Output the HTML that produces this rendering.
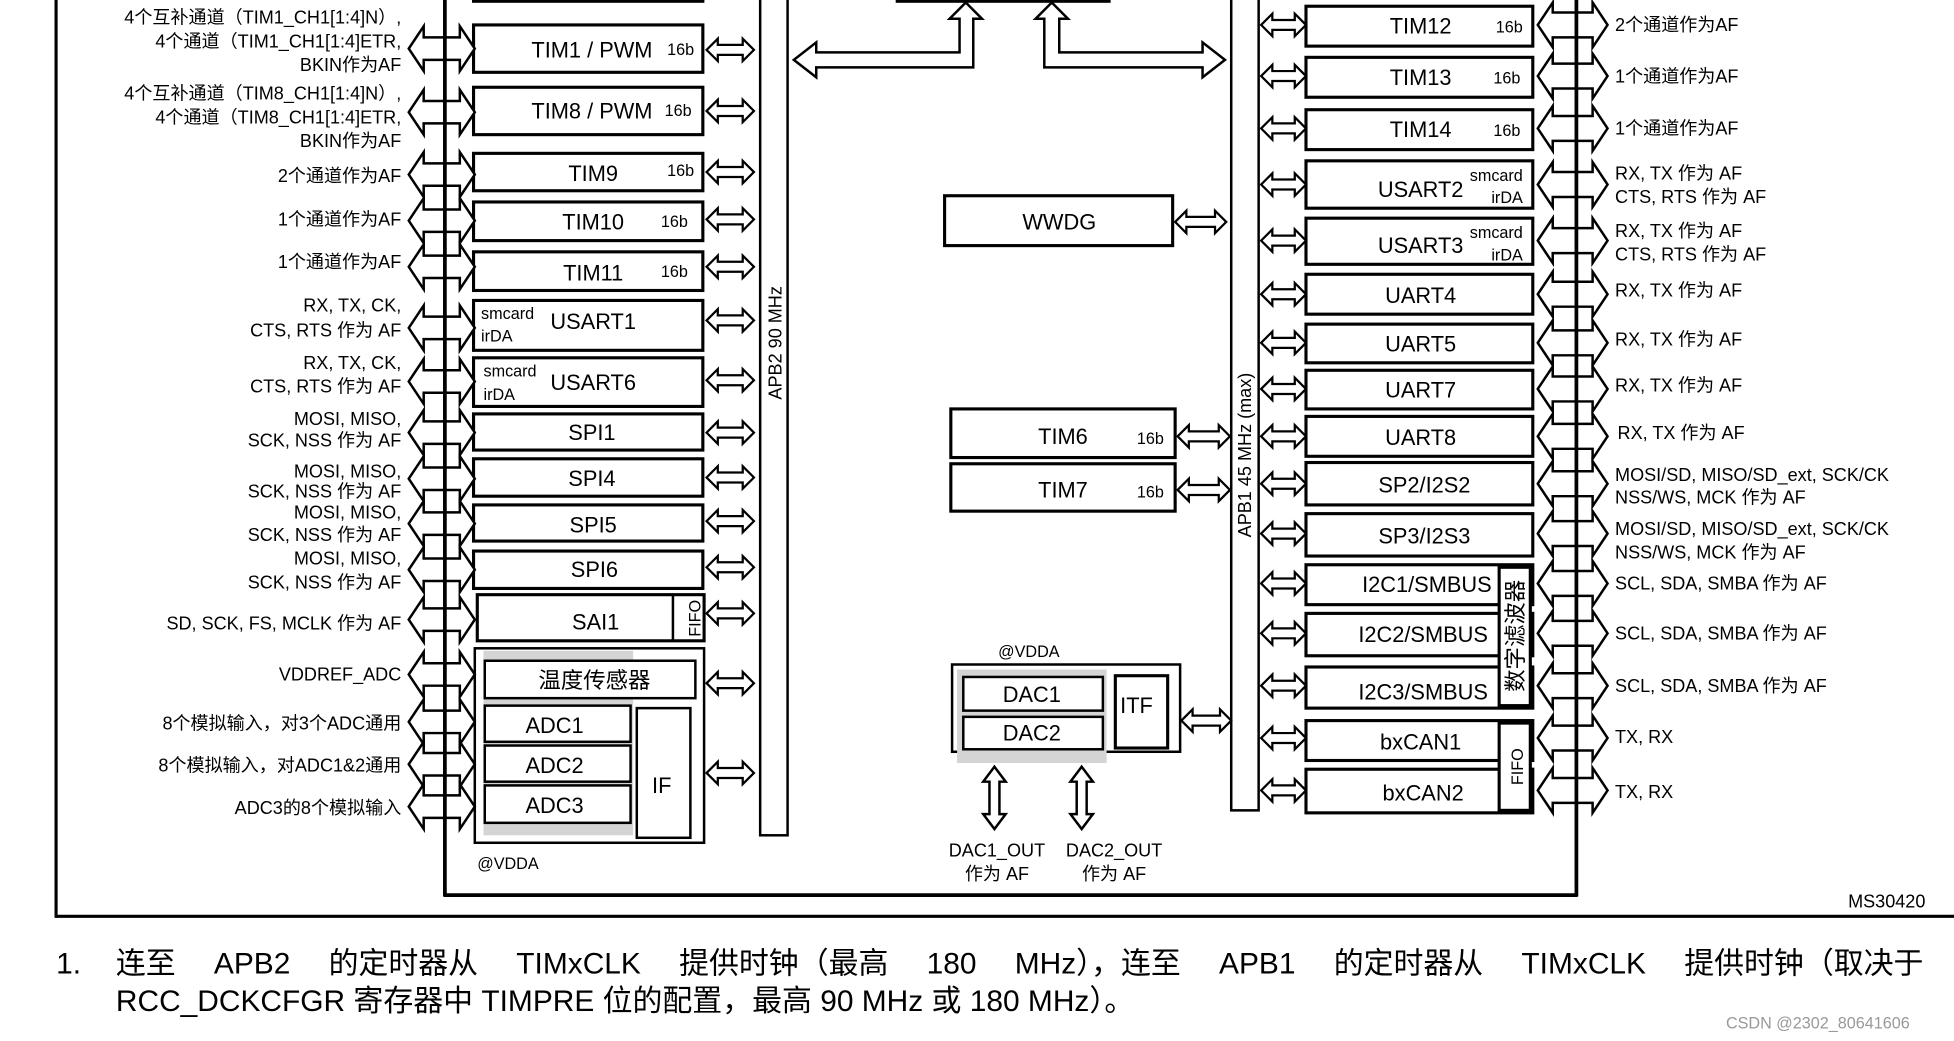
<!DOCTYPE html>
<html><head><meta charset="utf-8"><style>
html,body{margin:0;padding:0;background:#fff;}
svg{display:block;}
text{font-family:"Liberation Sans","Noto Sans CJK SC",sans-serif;fill:#000;}
.b{font-size:17.5px;}
.s{font-size:13px;}
.l{font-size:14.5px;}
.f{font-size:24px;}
</style></head><body>
<svg id="g" width="1954" height="1041" viewBox="0 0 1568 835" preserveAspectRatio="none" xmlns="http://www.w3.org/2000/svg">
<g id="shapes" fill="none" stroke="#000" stroke-width="2"></g>

<g class="b" text-anchor="middle">
<text x="475" y="46">TIM1 / PWM</text>
<text x="475" y="95">TIM8 / PWM</text>
<text x="476" y="145">TIM9</text>
<text x="476" y="184">TIM10</text>
<text x="476" y="225">TIM11</text>
<text x="476" y="264">USART1</text>
<text x="476" y="313">USART6</text>
<text x="475" y="353">SPI1</text>
<text x="475" y="390">SPI4</text>
<text x="476" y="427">SPI5</text>
<text x="477" y="463">SPI6</text>
<text x="478" y="505">SAI1</text>
<text x="477" y="552" font-size="18">温度传感器</text>
<text x="445" y="588">ADC1</text>
<text x="445" y="620">ADC2</text>
<text x="445" y="652">ADC3</text>
<text x="531" y="636">IF</text>
<text x="850" y="184">WWDG</text>
<text x="853" y="356">TIM6</text>
<text x="853" y="399">TIM7</text>
<text x="828" y="563">DAC1</text>
<text x="828" y="594">DAC2</text>
<text x="912" y="572">ITF</text>
<text x="1140" y="27">TIM12</text>
<text x="1140" y="68">TIM13</text>
<text x="1140" y="110">TIM14</text>
<text x="1140" y="158">USART2</text>
<text x="1140" y="203">USART3</text>
<text x="1140" y="243">UART4</text>
<text x="1140" y="282">UART5</text>
<text x="1140" y="319">UART7</text>
<text x="1140" y="357">UART8</text>
<text x="1143" y="395">SP2/I2S2</text>
<text x="1143" y="436">SP3/I2S3</text>
<text x="1145" y="475">I2C1/SMBUS</text>
<text x="1142" y="515">I2C2/SMBUS</text>
<text x="1142" y="561">I2C3/SMBUS</text>
<text x="1140" y="601">bxCAN1</text>
<text x="1142" y="642">bxCAN2</text>
</g>
<g class="s" text-anchor="end">
<text x="557" y="44">16b</text>
<text x="555" y="93">16b</text>
<text x="557" y="141">16b</text>
<text x="552" y="182">16b</text>
<text x="552" y="222">16b</text>
<text x="934" y="356">16b</text>
<text x="934" y="399">16b</text>
<text x="1222" y="26">16b</text>
<text x="1220" y="67">16b</text>
<text x="1220" y="109">16b</text>
<text x="1222" y="145">smcard</text><text x="1222" y="163">irDA</text>
<text x="1222" y="191">smcard</text><text x="1222" y="209">irDA</text>
</g>
<g class="s">
<text x="386" y="256">smcard</text><text x="386" y="274">irDA</text>
<text x="388" y="302">smcard</text><text x="388" y="321">irDA</text>
<text x="383" y="697">@VDDA</text>
<text x="801" y="527">@VDDA</text>
</g>
<text class="s" transform="translate(557,496) rotate(-90)" text-anchor="middle" y="5">FIFO</text>
<text class="s" transform="translate(1216,615) rotate(-90)" text-anchor="middle" y="6" font-size="15">FIFO</text>
<text transform="translate(1216,510) rotate(-90)" text-anchor="middle" y="6" font-size="18">数字滤波器</text>
<text class="l" transform="translate(627,275) rotate(-90)" text-anchor="middle">APB2 90 MHz</text>
<text class="l" transform="translate(1004,365) rotate(-90)" text-anchor="middle">APB1 45 MHz (max)</text>

<g class="l" text-anchor="end">
<text x="322" y="19">4个互补通道（TIM1_CH1[1:4]N）,</text>
<text x="322" y="38">4个通道（TIM1_CH1[1:4]ETR,</text>
<text x="322" y="57">BKIN作为AF</text>
<text x="322" y="80">4个互补通道（TIM8_CH1[1:4]N）,</text>
<text x="322" y="99">4个通道（TIM8_CH1[1:4]ETR,</text>
<text x="322" y="118">BKIN作为AF</text>
<text x="322" y="146">2个通道作为AF</text>
<text x="322" y="181">1个通道作为AF</text>
<text x="322" y="215">1个通道作为AF</text>
<text x="322" y="250">RX, TX, CK,</text><text x="322" y="270">CTS, RTS 作为 AF</text>
<text x="322" y="296">RX, TX, CK,</text><text x="322" y="315">CTS, RTS 作为 AF</text>
<text x="322" y="341">MOSI, MISO,</text><text x="322" y="358">SCK, NSS 作为 AF</text>
<text x="322" y="383">MOSI, MISO,</text><text x="322" y="399">SCK, NSS 作为 AF</text>
<text x="322" y="416">MOSI, MISO,</text><text x="322" y="434">SCK, NSS 作为 AF</text>
<text x="322" y="453">MOSI, MISO,</text><text x="322" y="472">SCK, NSS 作为 AF</text>
<text x="322" y="505">SD, SCK, FS, MCLK 作为 AF</text>
<text x="322" y="546">VDDREF_ADC</text>
<text x="322" y="585">8个模拟输入，对3个ADC通用</text>
<text x="322" y="619">8个模拟输入，对ADC1&amp;2通用</text>
<text x="322" y="653">ADC3的8个模拟输入</text>
</g>
<g class="l">
<text x="1296" y="25">2个通道作为AF</text>
<text x="1296" y="66">1个通道作为AF</text>
<text x="1296" y="108">1个通道作为AF</text>
<text x="1296" y="144">RX, TX 作为 AF</text><text x="1296" y="163">CTS, RTS 作为 AF</text>
<text x="1296" y="190">RX, TX 作为 AF</text><text x="1296" y="209">CTS, RTS 作为 AF</text>
<text x="1296" y="238">RX, TX 作为 AF</text>
<text x="1296" y="277">RX, TX 作为 AF</text>
<text x="1296" y="314">RX, TX 作为 AF</text>
<text x="1298" y="352">RX, TX 作为 AF</text>
<text x="1296" y="386">MOSI/SD, MISO/SD_ext, SCK/CK</text><text x="1296" y="404">NSS/WS, MCK 作为 AF</text>
<text x="1296" y="429">MOSI/SD, MISO/SD_ext, SCK/CK</text><text x="1296" y="448">NSS/WS, MCK 作为 AF</text>
<text x="1296" y="473">SCL, SDA, SMBA 作为 AF</text>
<text x="1296" y="513">SCL, SDA, SMBA 作为 AF</text>
<text x="1296" y="555">SCL, SDA, SMBA 作为 AF</text>
<text x="1296" y="596">TX, RX</text>
<text x="1296" y="640">TX, RX</text>
</g>
<g class="l" text-anchor="middle">
<text x="800" y="687">DAC1_OUT</text><text x="800" y="706">作为 AF</text>
<text x="894" y="687">DAC2_OUT</text><text x="894" y="706">作为 AF</text>
</g>
<text class="l" x="1483" y="728" font-size="16">MS30420</text>
<text class="f" x="45" y="781">1.</text>
<text class="f" x="93" y="781" word-spacing="24">连至 APB2 的定时器从 TIMxCLK 提供时钟（最高 180 MHz），连至 APB1 的定时器从 TIMxCLK 提供时钟（取决于</text>
<text class="f" x="93" y="811">RCC_DCKCFGR 寄存器中 TIMPRE 位的配置，最高 90 MHz 或 180 MHz）。</text>
<text x="1385" y="825" font-size="13" style="fill:#999">CSDN @2302_80641606</text>
</svg>
<script>
var G=document.getElementById('shapes'),NS='http://www.w3.org/2000/svg';
function el(t,a){var e=document.createElementNS(NS,t);for(var k in a)e.setAttribute(k,a[k]);G.appendChild(e);return e;}
function R(x,y,w,h,sw,fill){el('rect',{x:x,y:y,width:w,height:h,'stroke-width':sw===undefined?2.5:sw,fill:fill||'none'});}
function L(x1,y1,x2,y2,sw){el('line',{x1:x1,y1:y1,x2:x2,y2:y2,'stroke-width':sw||2});}
function P(pts,sw){el('polygon',{points:pts.map(function(p){return p.join(',')}).join(' '),fill:'#fff','stroke-width':sw||2});}
function HA(x1,x2,c,h,H,s,sw){P([[x1,c],[x1+h,c-H],[x1+h,c-s],[x2-h,c-s],[x2-h,c-H],[x2,c],[x2-h,c+H],[x2-h,c+s],[x1+h,c+s],[x1+h,c+H]],sw);}
function VA(y1,y2,c,h,H,s,sw){P([[c,y1],[c+H,y1+h],[c+s,y1+h],[c+s,y2-h],[c+H,y2-h],[c,y2],[c-H,y2-h],[c-s,y2-h],[c-s,y1+h],[c-H,y1+h]],sw);}
L(45,0,45,736,2.5);L(44,735,1568,735,2.5);
R(610,-5,22,675,2);R(988,-5,22,655,2);
R(720,-20,170,21,2.5);L(814,-20,814,1,2);R(380,-20,184,21,2.5);
P([[775,2],[788,15],[781,15],[781,54],[655,54],[655,62],[637,48],[655,34],[655,42],[770,42],[770,15],[762,15]]);
P([[844,2],[857,15],[850,15],[850,42],[965,42],[965,34],[983,48],[965,62],[965,54],[838,54],[838,15],[831,15]]);
var lb=[[20,38],[70,38],[123,30],[162,31],[202,31],[241,40],[287,39],[332,29],[368,30],[405,29],[442,30]];
lb.forEach(function(b){R(380,b[0],184,b[1]);});
R(383,477,182,37);L(540,477,540,514,2);
R(381,520,184,156,2);R(388,522,120,148,0,'#d4d4d4');
R(389,530,169,30,2,'#fff');R(389,566,117,29,2,'#fff');R(389,598,117,29,2,'#fff');R(389,630,117,30,2,'#fff');R(511,568,43,104,2,'#fff');
var la=[39,90,140,177,214,263,306,347,384,420,457,497,541,579,613,647];
la.forEach(function(c){HA(328,381,c,12,18,9,2);});
L(357,0,357,719,3);L(356,718,1266,718,3);
var sa=[40,89,138,176,214,257,305,347,383,418,455,492,548,620];
sa.forEach(function(c){HA(567,605,c,9,9,4,1.8);});
var rb=[[5,32],[46,32],[88,32],[129,38],[175,37],[220,32],[260,31],[297,31],[334,32],[371,34],[412,34],[453,32],[492,34],[535,33],[578,32],[617,35]];
rb.forEach(function(b){R(1048,b[0],182,b[1]);});
R(1203,455,25,111,2.5,'#fff');R(1203,580,25,70,2.5,'#fff');
var ra=[20,61,103,148,193,236,275,312,350,388,428,468,508,550,592,634];
ra.forEach(function(c){HA(1234,1290,c,12,18,10,2);});
L(1265,0,1265,719,3);
ra.forEach(function(c){HA(1012,1048,c,9,9,4,1.8);});
R(758,157,183,40);HA(943,984,178,9,9,4,1.8);
R(763,328,180,39);R(763,372,180,38);HA(945,987,350,9,9,4,1.8);HA(945,987,393,9,9,4,1.8);
R(764,533,183,70,2);R(768,537,120,75,0,'#d4d4d4');
R(773,543,112,27,2,'#fff');R(773,575,112,26,2,'#fff');R(895,542,42,58,2.5,'#fff');
HA(948,988,578,9,9,4,1.8);
VA(615,665,798,12,9,4,2);VA(615,665,868,12,9,4,2);
</script>
</body></html>
